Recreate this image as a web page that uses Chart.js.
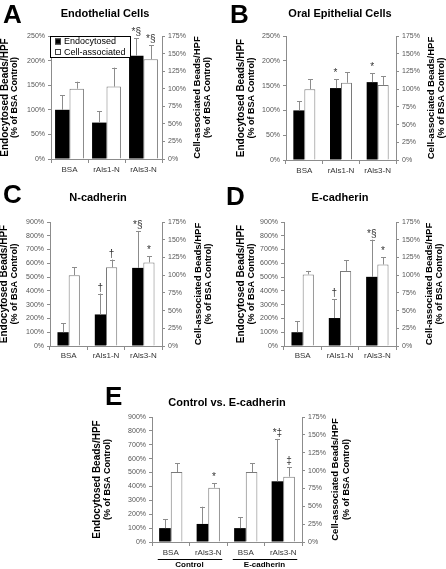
<!DOCTYPE html>
<html>
<head>
<meta charset="utf-8">
<script src="https://cdn.jsdelivr.net/npm/chart.js@4.4.1/dist/chart.umd.min.js"></script>
<style>
  body { margin: 0; background: #fff; width: 446px; height: 569px; position: relative; overflow: hidden; }
  canvas { position: absolute; }
</style>
</head>
<body>
<canvas id="cA" width="223" height="180" style="left:0;top:0"></canvas>
<canvas id="cB" width="223" height="180" style="left:223px;top:0"></canvas>
<canvas id="cC" width="223" height="180" style="left:0;top:180px"></canvas>
<canvas id="cD" width="223" height="180" style="left:223px;top:180px"></canvas>
<canvas id="cE" width="320" height="199" style="left:60px;top:370px"></canvas>
<script>
// series names
const seriesNames = ['Endocytosed', 'Cell-associated'];
const leftTitle = ['Endocytosed Beads/HPF', '(% of BSA Control)'];
const rightTitle = ['Cell-associated Beads/HPF', '(% of BSA Control)'];

// categories
const cats = ['BSA', 'rAls1-N', 'rAls3-N'];
const catsE = ['BSA', 'rAls3-N', 'BSA', 'rAls3-N'];
const groupsE = ['Control', 'E-cadherin'];

// axis ticks
const leftMaxAB = 250, leftStepAB = 50;
const leftMaxCDE = 900, leftStepCDE = 100;
const rightMax = 175, rightStep = 25;

// A: Endothelial Cells
const endoA = [100, 74, 210];
const endoErrA = [130, 97, 245];
const cellA = [100, 103, 142];
const cellErrA = [110, 130, 162];
const endoMarkA = ['', '', '*§'];
const cellMarkA = ['', '', '*§'];

// B: Oral Epithelial Cells
const endoB = [100, 145, 157];
const endoErrB = [118, 163, 175];
const cellB = [100, 109, 106];
const cellErrB = [114, 124, 118];
const endoMarkB = ['', '*', '*'];
const cellMarkB = ['', '', ''];

// C: N-cadherin
const endoC = [100, 229, 567];
const endoErrC = [164, 381, 835];
const cellC = [100, 111, 118];
const cellErrC = [111, 122, 127];
const endoMarkC = ['', '†', '*§'];
const cellMarkC = ['', '†', '*'];

// D: E-cadherin
const endoD = [100, 203, 502];
const endoErrD = [181, 340, 772];
const cellD = [101, 106, 115];
const cellErrD = [106, 121, 125];
const endoMarkD = ['', '†', '*§'];
const cellMarkD = ['', '', '*'];

// E: Control vs. E-cadherin
const endoE = [100, 130, 100, 437];
const endoErrE = [163, 254, 180, 742];
const cellE = [98, 76, 98, 91.5];
const cellErrE = [110, 82, 110, 104.5];
const endoMarkE = ['', '', '', '*‡'];
const cellMarkE = ['', '*', '', '‡'];

const FONT = '"Liberation Sans", Arial, sans-serif';

// two rotated lines, reading bottom to top
function vText(ctx, lines, xs, sizes, cy) {
    ctx.save();
    ctx.fillStyle = '#000';
    ctx.textAlign = 'center';
    ctx.textBaseline = 'middle';
    lines.forEach((line, i) => {
        ctx.save();
        ctx.font = 'bold ' + sizes[i] + 'px ' + FONT;
        ctx.translate(xs[i], cy);
        ctx.rotate(-Math.PI / 2);
        ctx.fillText(line, 0, 0);
        ctx.restore();
    });
    ctx.restore();
}

// boxed legend inside panel A
function drawLegend(chart, box) {
    const ctx = chart.ctx;
    ctx.save();
    ctx.fillStyle = '#fff';
    ctx.fillRect(box.x, box.y, box.w, box.h);
    ctx.strokeStyle = '#000';
    ctx.lineWidth = 1;
    ctx.strokeRect(box.x + 0.5, box.y + 0.5, box.w, box.h);
    ctx.font = '9px ' + FONT;
    ctx.textAlign = 'left';
    ctx.textBaseline = 'middle';
    chart.data.datasets.forEach((ds, i) => {
        const cy = box.y + 5.5 + i * 10.5;
        ctx.fillStyle = ds.backgroundColor;
        ctx.fillRect(box.x + 5, cy - 3, 6, 6);
        ctx.strokeStyle = '#444';
        ctx.strokeRect(box.x + 5.5, cy - 2.5, 5, 5);
        ctx.fillStyle = '#000';
        ctx.fillText(ds.label, box.x + 14, cy + 0.5);
    });
    ctx.restore();
}

// letters, titles, axis titles, error bars, significance marks
function decor(p) {
    return {
        id: 'decor' + p.id,
        afterDatasetsDraw(chart) {
            const ctx = chart.ctx;
            chart.data.datasets.forEach((ds, d) => {
                const meta = chart.getDatasetMeta(d);
                const scale = chart.scales[meta.yAxisID];
                meta.data.forEach((bar, i) => {
                    const top = scale.getPixelForValue(ds.err[i]);
                    const bx = Math.round(bar.x) + 0.5;
                    ctx.save();
                    ctx.strokeStyle = '#8c8c8c';
                    ctx.lineWidth = 1;
                    ctx.beginPath();
                    ctx.moveTo(bx, bar.y);
                    ctx.lineTo(bx, top);
                    ctx.moveTo(bx - 2.5, Math.round(top) + 0.5);
                    ctx.lineTo(bx + 2.5, Math.round(top) + 0.5);
                    ctx.stroke();
                    if (ds.marks[i]) {
                        ctx.fillStyle = '#333';
                        ctx.font = '10px ' + FONT;
                        ctx.textAlign = 'center';
                        ctx.textBaseline = 'alphabetic';
                        ctx.fillText(ds.marks[i], bar.x, top - 3);
                    }
                    ctx.restore();
                });
            });
        },
        afterDraw(chart) {
            const ctx = chart.ctx;
            const area = chart.chartArea;
            ctx.save();
            ctx.fillStyle = '#000';
            ctx.font = 'bold 26px ' + FONT;
            ctx.textAlign = 'left';
            ctx.textBaseline = 'alphabetic';
            ctx.fillText(p.letter, p.letterPos[0], p.letterPos[1]);
            ctx.font = 'bold 11px ' + FONT;
            ctx.textAlign = 'center';
            ctx.textBaseline = 'middle';
            ctx.fillText(p.title, p.titlePos[0], p.titlePos[1]);
            ctx.restore();
            const cy = (area.top + area.bottom) / 2;
            vText(ctx, leftTitle, p.lt, [10, 9], cy);
            vText(ctx, rightTitle, p.rt, [9.5, 9], cy);

            if (p.legendBox) drawLegend(chart, p.legendBox);

            if (p.groups) {
                const xs = chart.scales.x;
                ctx.save();
                ctx.strokeStyle = '#000';
                ctx.fillStyle = '#000';
                ctx.font = 'bold 8px ' + FONT;
                ctx.textAlign = 'center';
                ctx.textBaseline = 'middle';
                p.groups.forEach((g, k) => {
                    const a = xs.getPixelForValue(k * 2);
                    const b = xs.getPixelForValue(k * 2 + 1);
                    ctx.beginPath();
                    ctx.moveTo(a - 13, p.groupLineY + 0.5);
                    ctx.lineTo(b + 14, p.groupLineY + 0.5);
                    ctx.stroke();
                    ctx.fillText(g, (a + b) / 2, p.groupLineY + 6);
                });
                ctx.restore();
            }
        }
    };
}

function axisGrid(len) {
    return { drawOnChartArea: false, drawTicks: true, tickLength: len, color: '#8c8c8c' };
}

function buildPanel(p) {
    const canvas = document.getElementById(p.id);
    const W = canvas.width, H = canvas.height;
    const yTicks = { color: '#555', font: { size: 7, family: FONT }, padding: 3, callback: v => v + '%' };
    return new Chart(canvas, {
        type: 'bar',
        data: {
            labels: p.labels,
            datasets: [
                {
                    label: seriesNames[0], data: p.endo, err: p.endoErr, marks: p.endoMark,
                    yAxisID: 'y', backgroundColor: '#000', borderWidth: 0,
                    categoryPercentage: p.catPct, barPercentage: 1
                },
                {
                    label: seriesNames[1], data: p.cell, err: p.cellErr, marks: p.cellMark,
                    yAxisID: 'y2', backgroundColor: '#fff', borderColor: '#7a7a7a', borderWidth: 1,
                    categoryPercentage: p.catPct, barPercentage: 1
                }
            ]
        },
        options: {
            responsive: false,
            animation: false,
            layout: { padding: { top: p.area.top, left: 0, right: 0, bottom: 0 } },
            plugins: { legend: { display: false }, tooltip: { enabled: false } },
            scales: {
                x: {
                    offset: true,
                    grid: Object.assign(axisGrid(4), { offset: true }),
                    border: { color: '#8c8c8c' },
                    ticks: { color: '#333', font: { size: 8, family: FONT }, padding: p.xPad, maxRotation: 0, autoSkip: false },
                    afterFit: s => { s.height = H - p.area.bottom; }
                },
                y: {
                    position: 'left', min: 0, max: p.leftMax,
                    grid: axisGrid(3),
                    border: { color: '#8c8c8c' },
                    ticks: Object.assign({ stepSize: p.leftStep }, yTicks),
                    afterFit: s => { s.width = p.area.left; }
                },
                y2: {
                    position: 'right', min: 0, max: rightMax,
                    grid: axisGrid(3),
                    border: { color: '#8c8c8c' },
                    ticks: Object.assign({ stepSize: rightStep }, yTicks),
                    afterFit: s => { s.width = W - p.area.right; }
                }
            }
        },
        plugins: [decor(p)]
    });
}

document.addEventListener('DOMContentLoaded', () => {
    buildPanel({
        id: 'cA', labels: cats, endo: endoA, endoErr: endoErrA, cell: cellA, cellErr: cellErrA,
        endoMark: endoMarkA, cellMark: cellMarkA, leftMax: leftMaxAB, leftStep: leftStepAB,
        area: { left: 51, right: 162, top: 36, bottom: 159 }, catPct: 0.78, xPad: 2,
        letter: 'A', letterPos: [3, 23], title: 'Endothelial Cells', titlePos: [105, 14],
        lt: [5, 15], rt: [197, 208], legendBox: { x: 50, y: 36, w: 80, h: 21 }
    });
    buildPanel({
        id: 'cB', labels: cats, endo: endoB, endoErr: endoErrB, cell: cellB, cellErr: cellErrB,
        endoMark: endoMarkB, cellMark: cellMarkB, leftMax: leftMaxAB, leftStep: leftStepAB,
        area: { left: 63, right: 173, top: 36, bottom: 160 }, catPct: 0.6, xPad: 2,
        letter: 'B', letterPos: [7, 23], title: 'Oral Epithelial Cells', titlePos: [117, 14],
        lt: [18, 29], rt: [208, 219]
    });
    buildPanel({
        id: 'cC', labels: cats, endo: endoC, endoErr: endoErrC, cell: cellC, cellErr: cellErrC,
        endoMark: endoMarkC, cellMark: cellMarkC, leftMax: leftMaxCDE, leftStep: leftStepCDE,
        area: { left: 50, right: 162, top: 42, bottom: 166 }, catPct: 0.6, xPad: 1,
        letter: 'C', letterPos: [3, 23], title: 'N-cadherin', titlePos: [98, 18],
        lt: [4, 15], rt: [198, 209]
    });
    buildPanel({
        id: 'cD', labels: cats, endo: endoD, endoErr: endoErrD, cell: cellD, cellErr: cellErrD,
        endoMark: endoMarkD, cellMark: cellMarkD, leftMax: leftMaxCDE, leftStep: leftStepCDE,
        area: { left: 61, right: 173, top: 42, bottom: 166 }, catPct: 0.6, xPad: 1,
        letter: 'D', letterPos: [3, 25], title: 'E-cadherin', titlePos: [117, 18],
        lt: [18, 29], rt: [206, 217]
    });
    buildPanel({
        id: 'cE', labels: catsE, endo: endoE, endoErr: endoErrE, cell: cellE, cellErr: cellErrE,
        endoMark: endoMarkE, cellMark: cellMarkE, leftMax: leftMaxCDE, leftStep: leftStepCDE,
        area: { left: 92, right: 242, top: 47, bottom: 172 }, catPct: 0.62, xPad: 2,
        letter: 'E', letterPos: [45, 35], title: 'Control vs. E-cadherin', titlePos: [167, 33],
        lt: [37, 48], rt: [275, 287], groups: groupsE, groupLineY: 189
    });
});
</script>
</body>
</html>
